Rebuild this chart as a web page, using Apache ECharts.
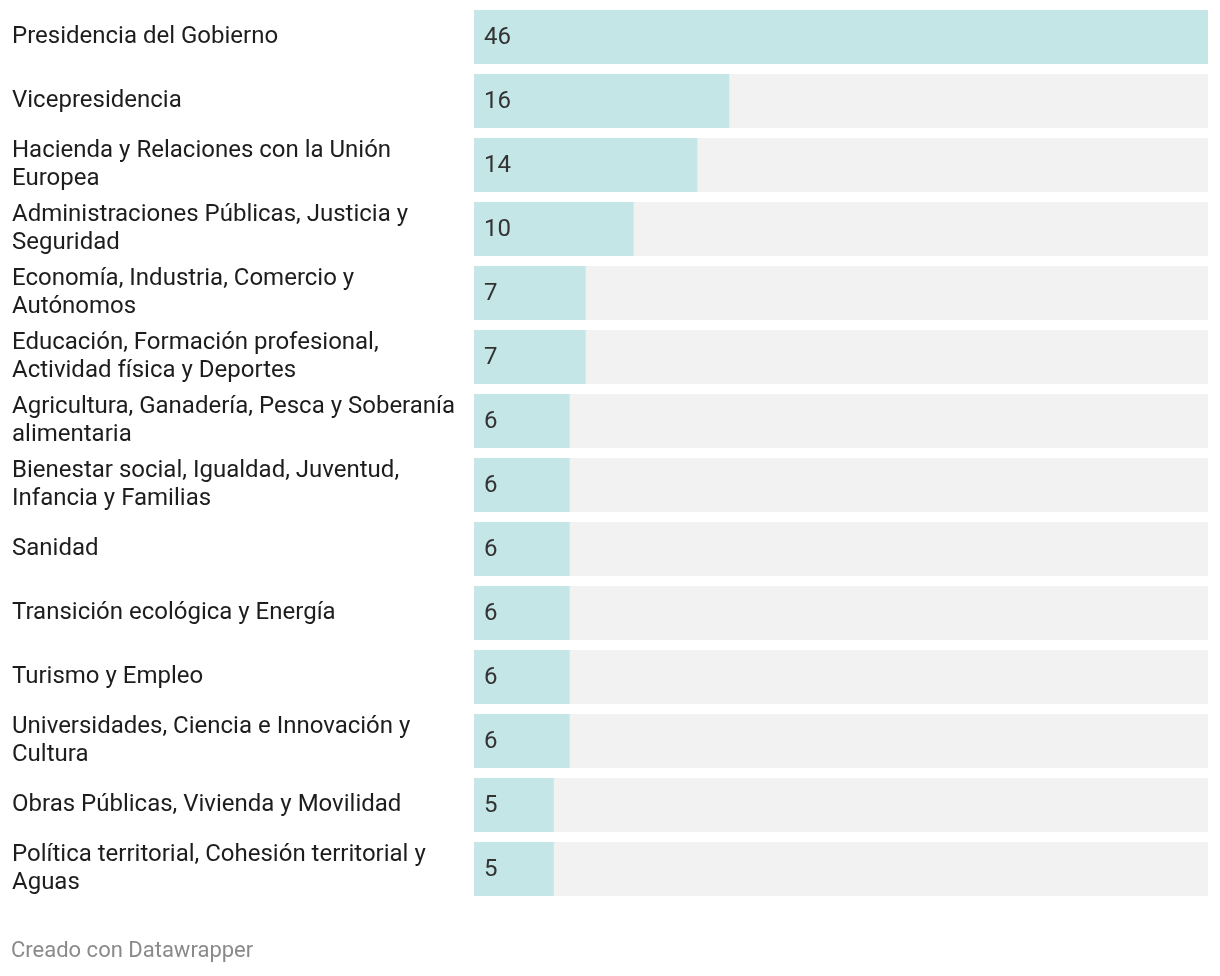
<!DOCTYPE html>
<html>
<head>
<meta charset="utf-8">
<script src="https://cdn.jsdelivr.net/npm/echarts@6/dist/echarts.min.js"></script>
<style>
html,body{margin:0;padding:0;background:#fff;}
#chart{width:1220px;height:976px;}
</style>
</head>
<body>
<div id="chart"></div>
<script>
const categories = [
  "Presidencia del Gobierno",
  "Vicepresidencia",
  "Hacienda y Relaciones con la Unión\nEuropea",
  "Administraciones Públicas, Justicia y\nSeguridad",
  "Economía, Industria, Comercio y\nAutónomos",
  "Educación, Formación profesional,\nActividad física y Deportes",
  "Agricultura, Ganadería, Pesca y Soberanía\nalimentaria",
  "Bienestar social, Igualdad, Juventud,\nInfancia y Familias",
  "Sanidad",
  "Transición ecológica y Energía",
  "Turismo y Empleo",
  "Universidades, Ciencia e Innovación y\nCultura",
  "Obras Públicas, Vivienda y Movilidad",
  "Política territorial, Cohesión territorial y\nAguas"
];
const values = [46, 16, 14, 10, 7, 7, 6, 6, 6, 6, 6, 6, 5, 5];
const footerText = "Creado con Datawrapper";

const chart = echarts.init(document.getElementById('chart'));
chart.setOption({
  animation: false,
  backgroundColor: '#ffffff',
  grid: { left: 474, right: 12, top: 5, bottom: 75, containLabel: false },
  xAxis: {
    type: 'value', min: 0, max: 46,
    show: false
  },
  yAxis: {
    type: 'category',
    data: categories,
    inverse: true,
    axisLine: { show: false },
    axisTick: { show: false },
    splitLine: { show: false },
    axisLabel: {
      align: 'left',
      margin: 462,
      fontFamily: 'Roboto',
      fontSize: 24,
      lineHeight: 28,
      padding: [2, 0, 0, 0],
      color: '#1d1d1d'
    }
  },
  series: [{
    type: 'bar',
    data: values,
    barWidth: 54,
    itemStyle: { color: '#c4e6e6' },
    showBackground: true,
    backgroundStyle: { color: '#f2f2f2' },
    label: {
      show: true,
      position: 'insideLeft',
      distance: 10,
      offset: [0, 1],
      fontFamily: 'Roboto',
      fontSize: 24,
      color: '#333333'
    }
  }],
  graphic: [{
    type: 'text',
    left: 11,
    top: 940,
    style: {
      text: footerText,
      fontFamily: 'Roboto',
      fontSize: 22,
      fill: '#8a8a8a'
    }
  }]
});
</script>
</body>
</html>
